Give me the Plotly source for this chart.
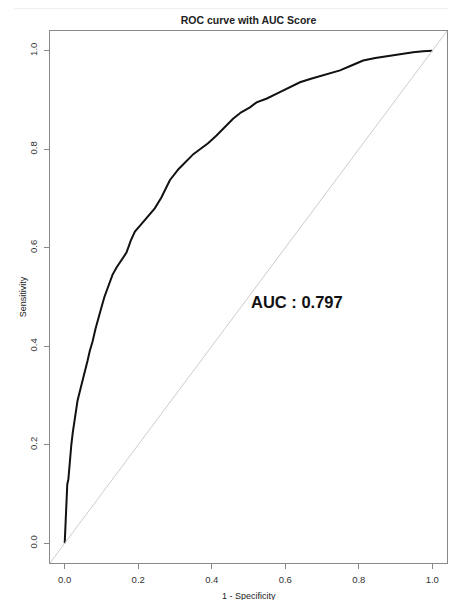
import plotly.graph_objects as go

# ROC curve points (1 - specificity, sensitivity)
fpr = [0.0, 0.003, 0.007, 0.01, 0.014, 0.018, 0.022, 0.028, 0.035, 0.045,
       0.054, 0.062, 0.068, 0.076, 0.084, 0.092, 0.1, 0.108, 0.117, 0.13,
       0.141, 0.155, 0.168, 0.18, 0.191, 0.205, 0.218, 0.232, 0.245, 0.263,
       0.275, 0.286, 0.31, 0.332, 0.35, 0.368, 0.39, 0.413, 0.435, 0.458,
       0.48, 0.504, 0.522, 0.55, 0.577, 0.61, 0.64, 0.67, 0.703, 0.749,
       0.78, 0.812, 0.845, 0.876, 0.91, 0.948, 0.975, 1.0]
tpr = [0.0, 0.06, 0.12, 0.13, 0.175, 0.2, 0.225, 0.26, 0.29, 0.32,
       0.345, 0.37, 0.39, 0.41, 0.436, 0.455, 0.479, 0.5, 0.52, 0.545,
       0.56, 0.575, 0.59, 0.615, 0.633, 0.645, 0.657, 0.669, 0.68, 0.702,
       0.72, 0.737, 0.76, 0.777, 0.79, 0.8, 0.812, 0.828, 0.845, 0.862,
       0.875, 0.885, 0.895, 0.903, 0.913, 0.925, 0.936, 0.943, 0.95, 0.96,
       0.97, 0.98, 0.985, 0.989, 0.993, 0.997, 0.999, 1.0]
tick_vals = [0.0, 0.2, 0.4, 0.6, 0.8, 1.0]
tick_text = ["0.0", "0.2", "0.4", "0.6", "0.8", "1.0"]
auc_label = "AUC : 0.797"
axis_range = [-0.04, 1.04]

FONT = "Liberation Sans, Arial, sans-serif"

fig = go.Figure()
fig.add_trace(go.Scatter(x=fpr, y=tpr, mode="lines",
                         line=dict(color="#111111", width=2),
                         hoverinfo="skip", showlegend=False))

# identity (chance) line across the whole plotting box
fig.add_shape(type="line", xref="paper", yref="paper", x0=0, y0=0, x1=1, y1=1,
              line=dict(color="#cccccc", width=1))
# faint band line at the very top of the picture
fig.add_shape(type="line", xref="paper", yref="paper", x0=-0.09, x1=1.03,
              y0=1.042, y1=1.042, line=dict(color="#eeeeee", width=1))

fig.add_annotation(x=0.5, y=0.49, xref="x", yref="y", text="<b>" + auc_label + "</b>",
                   showarrow=False, xanchor="left", yanchor="middle",
                   font=dict(family=FONT, size=16.5, color="#111111"))

# x-axis title placed just below the tick labels
fig.add_annotation(x=0.5, y=0, xref="paper", yref="paper", text="1 - Specificity",
                   showarrow=False, xanchor="center", yanchor="middle", yshift=-33,
                   font=dict(family=FONT, size=9, color="#222222"))

axis_common = dict(range=axis_range, showgrid=False, zeroline=False,
                   showline=True, mirror=True, linecolor="#888888", linewidth=1,
                   ticks="outside", ticklen=5, tickcolor="#888888", tickwidth=1,
                   tickvals=tick_vals, ticktext=tick_text, automargin=False,
                   tickfont=dict(family=FONT, size=9.5, color="#333333"))

fig.update_layout(
    width=456, height=600,
    margin=dict(l=42, r=17, t=23, b=45),
    paper_bgcolor="white", plot_bgcolor="white",
    title=dict(text="<b>ROC curve with AUC Score</b>", x=0.5, xref="paper",
               y=1 - 12 / 600, yanchor="middle",
               font=dict(family=FONT, size=10.5, color="#222222")),
    xaxis=dict(**axis_common, ticklabelstandoff=3),
    yaxis=dict(**axis_common, tickangle=-90, ticklabelstandoff=3,
               title=dict(text="Sensitivity", standoff=0,
                          font=dict(family=FONT, size=9, color="#222222"))),
    font=dict(family=FONT),
)

fig.write_html("out.html")
